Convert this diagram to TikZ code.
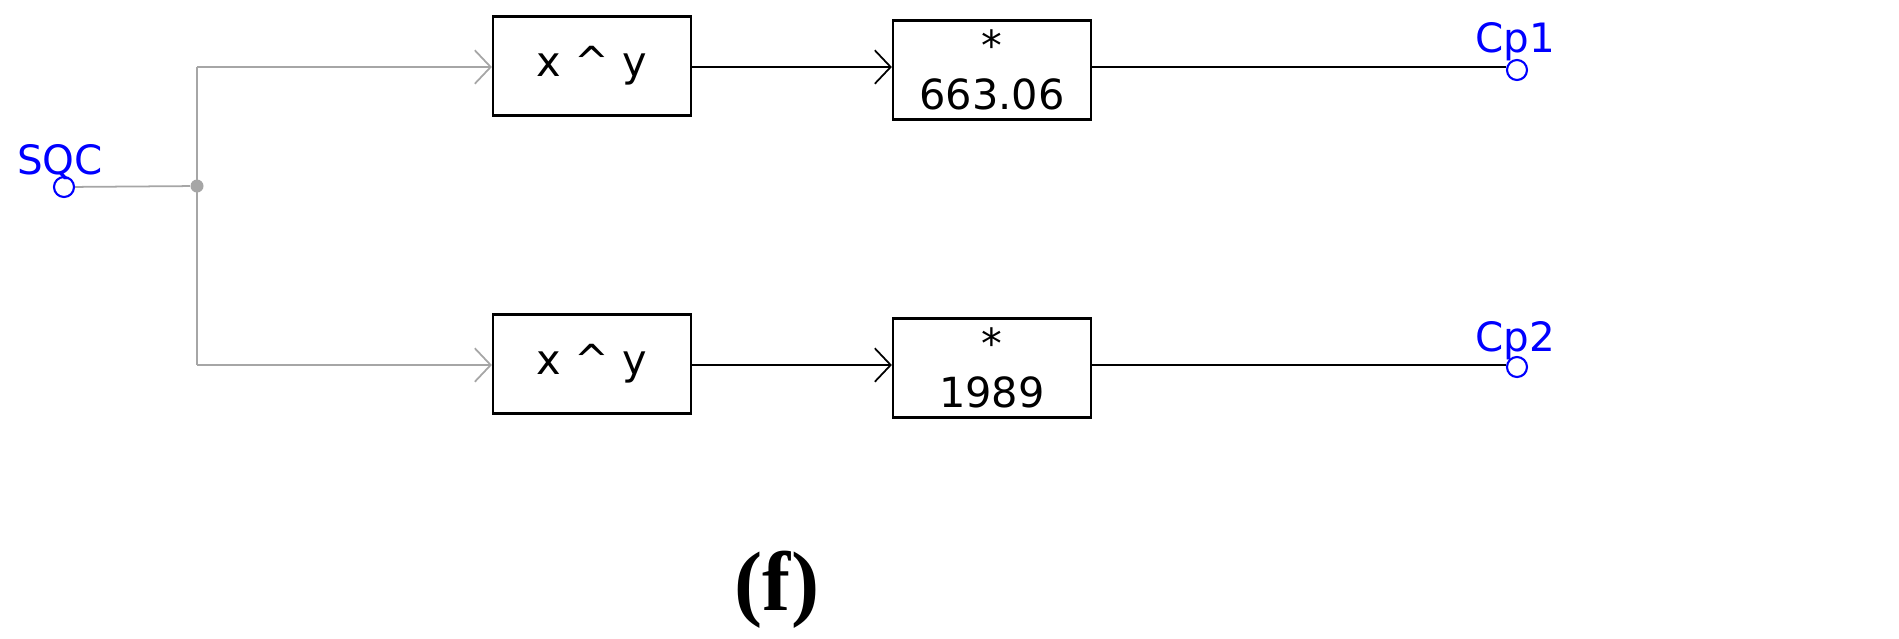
\documentclass[tikz,border=0pt]{standalone}
\usepackage{fontspec}
\setmainfont{DejaVu Sans}
\newfontfamily\serifb{Liberation Serif}
\usetikzlibrary{arrows.meta}
\begin{document}
\begin{tikzpicture}[x=0.01cm,y=-0.01cm,
  blk/.style={draw,line width=0.6pt,inner sep=0pt,font=\fontsize{11.8pt}{14pt}\selectfont,align=center},
  wire/.style={draw=gray!70,line width=0.5pt},
  arr/.style={-{Straight Barb[length=4.5pt,width=9.5pt,line width=0.5pt]}},
  port/.style={circle,draw=blue,line width=0.6pt,minimum size=0.2cm,inner sep=0pt},
  plab/.style={text=blue,font=\fontsize{11.5pt}{13pt}\selectfont}]
\useasboundingbox (0,0) rectangle (1899,638);
\node[port] (sqc) at (64,187) {};
\node[plab] at (60,162) {SQC};
\node[circle,fill=gray!70,minimum size=0.13cm,inner sep=0pt] (j) at (197,186) {};
\coordinate (t) at (197,67);
\coordinate (b) at (197,365);
\node[blk,minimum width=1.98cm,minimum height=0.99cm] (b1) at (592,66) {x \^{} y};
\node[blk,minimum width=1.98cm,minimum height=0.99cm] (b3) at (592,364) {x \^{} y};
\node[blk,minimum width=1.98cm,minimum height=0.99cm] (b2) at (992,70) {*\\663.06};
\node[blk,minimum width=1.98cm,minimum height=0.99cm] (b4) at (992,368) {*\\1989};
\node[port] (cp1) at (1517,70) {};
\node[plab] at (1515,42) {Cp1};
\node[port] (cp2) at (1517,367) {};
\node[plab] at (1515,341) {Cp2};
\draw[wire] (sqc) -- (j);
\draw[wire] (t) -- (b);
\draw[wire,arr] (t) -- (b1.west|-t);
\draw[wire,arr] (b) -- (b3.west|-b);
\draw[line width=0.5pt,arr] (b1.east|-t) -- (b2.west|-t);
\draw[line width=0.5pt,arr] (b3.east|-b) -- (b4.west|-b);
\draw[line width=0.5pt] (b2.east|-t) -- (cp1.west|-t);
\draw[line width=0.5pt] (b4.east|-b) -- (cp2.west|-b);
\node[font=\serifb\bfseries\fontsize{24pt}{28pt}\selectfont] (f) at (777,590) {(f)};
\end{tikzpicture}
\end{document}
